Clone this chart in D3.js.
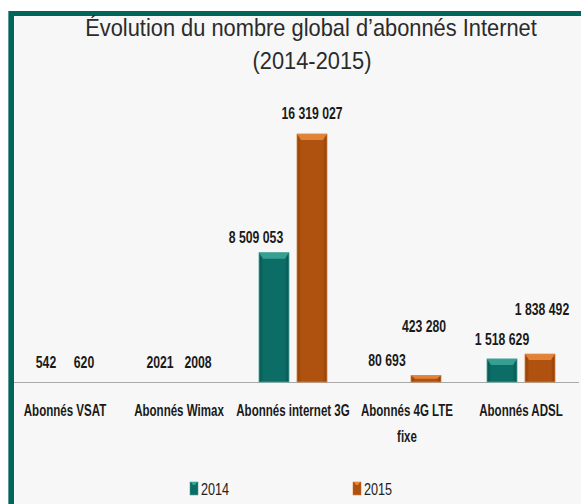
<!DOCTYPE html>
<html>
<head>
<meta charset="utf-8">
<script src="https://cdn.jsdelivr.net/npm/d3@7"></script>
<style>
  body { margin: 0; background: #fff; }
  svg { display: block; }
  text { font-family: 'Liberation Sans', Arial, sans-serif; }
</style>
</head>
<body>
<div id="chart"></div>
<script>
// data
var categories = ["Abonnés VSAT", "Abonnés Wimax", "Abonnés internet 3G", "Abonnés 4G LTE fixe", "Abonnés ADSL"];
var years = ["2014", "2015"];
var values2014 = [542, 2021, 8509053, 80693, 1518629];
var values2015 = [620, 2008, 16319027, 423280, 1838492];
var valueLabels2014 = ["542", "2021", "8 509 053", "80 693", "1 518 629"];
var valueLabels2015 = ["620", "2008", "16 319 027", "423 280", "1 838 492"];

// label nudges as placed in the original (dx, gap above bar top)
var labelShift = {
  "2014": [[0, 20], [0, 20], [-18, 16], [-1, 21], [0, 20]],
  "2015": [[0, 20], [0, 20], [0, 21], [-2, 50], [2, 45]]
};

var W = 581, H = 504;
var colors = {
  "2014": { main: "#0b6d65", dark: "#075750", light: "#3aa497", edge: "#4fa79d" },
  "2015": { main: "#b0520f", dark: "#933f07", light: "#e8873c", edge: "#d38446" }
};

// no narrow font installed: squeeze a normal one horizontally
function squeeze(sel, x, y, f) {
  return sel.attr("transform", "translate(" + x + "," + y + ") scale(" + f + ",1)");
}

var svg = d3.select("#chart").append("svg").attr("width", W).attr("height", H);
var defs = svg.append("defs");

years.forEach(function(yr) {
  var g = defs.append("linearGradient").attr("id", "grad" + yr).attr("x1", "0").attr("x2", "1").attr("y1", "0").attr("y2", "0");
  g.append("stop").attr("offset", "0").attr("stop-color", colors[yr].dark);
  g.append("stop").attr("offset", "0.15").attr("stop-color", colors[yr].main);
  g.append("stop").attr("offset", "0.85").attr("stop-color", colors[yr].main);
  g.append("stop").attr("offset", "1").attr("stop-color", colors[yr].dark);
});

// background + frame
svg.append("rect").attr("x", 14).attr("y", 16).attr("width", W - 14).attr("height", H - 16).attr("fill", "#f7f7f7");
svg.append("rect").attr("x", 8).attr("y", 11).attr("width", W - 8).attr("height", 5).attr("fill", "#00665b");
svg.append("rect").attr("x", 8).attr("y", 11).attr("width", 6).attr("height", H - 11).attr("fill", "#00665b");
svg.append("rect").attr("x", 8).attr("y", 11).attr("width", 1).attr("height", H - 11).attr("fill", "#5c9c93");

// title
squeeze(svg.append("text"), 311, 36, 0.91).attr("text-anchor", "middle")
  .style("font-size", "24px").attr("fill", "#2b2b2b").text("Évolution du nombre global d’abonnés Internet");
squeeze(svg.append("text"), 312, 69, 0.91).attr("text-anchor", "middle")
  .style("font-size", "24px").attr("fill", "#2b2b2b").text("(2014-2015)");

// scales
var baseY = 382;
var x0 = d3.scaleBand().domain(categories).range([8, 578]);
var x1 = d3.scaleBand().domain(years).range([23, 91]).paddingInner(8 / 38);
var y = d3.scaleLinear().domain([0, d3.max(values2015)]).range([baseY, 134]);

var rows = categories.map(function(c, i) {
  return { cat: c, i: i, vals: [
    { yr: "2014", v: values2014[i], label: valueLabels2014[i] },
    { yr: "2015", v: values2015[i], label: valueLabels2015[i] }
  ]};
});

// baseline
svg.append("line").attr("x1", 14).attr("x2", 579).attr("y1", baseY + 0.5).attr("y2", baseY + 0.5)
  .attr("stroke", "#a9a9a9").attr("stroke-width", 1);

var groups = svg.selectAll("g.cat").data(rows).enter().append("g").attr("class", "cat")
  .attr("transform", function(d) { return "translate(" + x0(d.cat) + ",0)"; });

groups.each(function(row) {
  var g = d3.select(this);
  row.vals.forEach(function(d) {
    var bx = x1(d.yr), bw = x1.bandwidth();
    var top = y(d.v), h = baseY - top;
    if (h >= 1.5) {
      g.append("rect").attr("x", bx).attr("y", top).attr("width", bw).attr("height", h)
        .attr("fill", "url(#grad" + d.yr + ")").attr("stroke", colors[d.yr].edge).attr("stroke-width", 0.8);
      var bev = Math.min(6, h / 2);
      g.append("path")
        .attr("d", "M" + bx + "," + top + "L" + (bx + bw) + "," + top + "L" + (bx + bw - 4) + "," + (top + bev) + "L" + (bx + 4) + "," + (top + bev) + "Z")
        .attr("fill", colors[d.yr].light).attr("opacity", 0.9);
    }
    var sh = labelShift[d.yr][row.i];
    squeeze(g.append("text"), bx + bw / 2 + sh[0], top - sh[1] + 6, 0.72)
      .attr("text-anchor", "middle").style("font-size", "17px")
      .style("font-weight", "bold").attr("fill", "#1a1a1a").text(d.label);
  });

  // category label, wrapped like the original
  var lines = row.cat === "Abonnés 4G LTE fixe" ? ["Abonnés 4G LTE", "fixe"] : [row.cat];
  lines.forEach(function(t, k) {
    squeeze(g.append("text"), x0.bandwidth() / 2, 416 + k * 26, 0.68)
      .attr("text-anchor", "middle").style("font-size", "17px")
      .style("font-weight", "bold").attr("fill", "#1a1a1a").text(t);
  });
});

// legend
var legendX = { "2014": 190, "2015": 353 };
years.forEach(function(yr) {
  var lg = svg.append("g").attr("transform", "translate(" + legendX[yr] + ",482)");
  lg.append("rect").attr("width", 8).attr("height", 13).attr("fill", "url(#grad" + yr + ")")
    .attr("stroke", colors[yr].edge).attr("stroke-width", 0.6);
  lg.append("path").attr("d", "M1,0L7,0L5,3L3,3Z").attr("fill", colors[yr].light);
  squeeze(lg.append("text"), 11, 12.5, 0.79).style("font-size", "16px")
    .attr("fill", "#222").text(yr);
});
</script>
</body>
</html>
